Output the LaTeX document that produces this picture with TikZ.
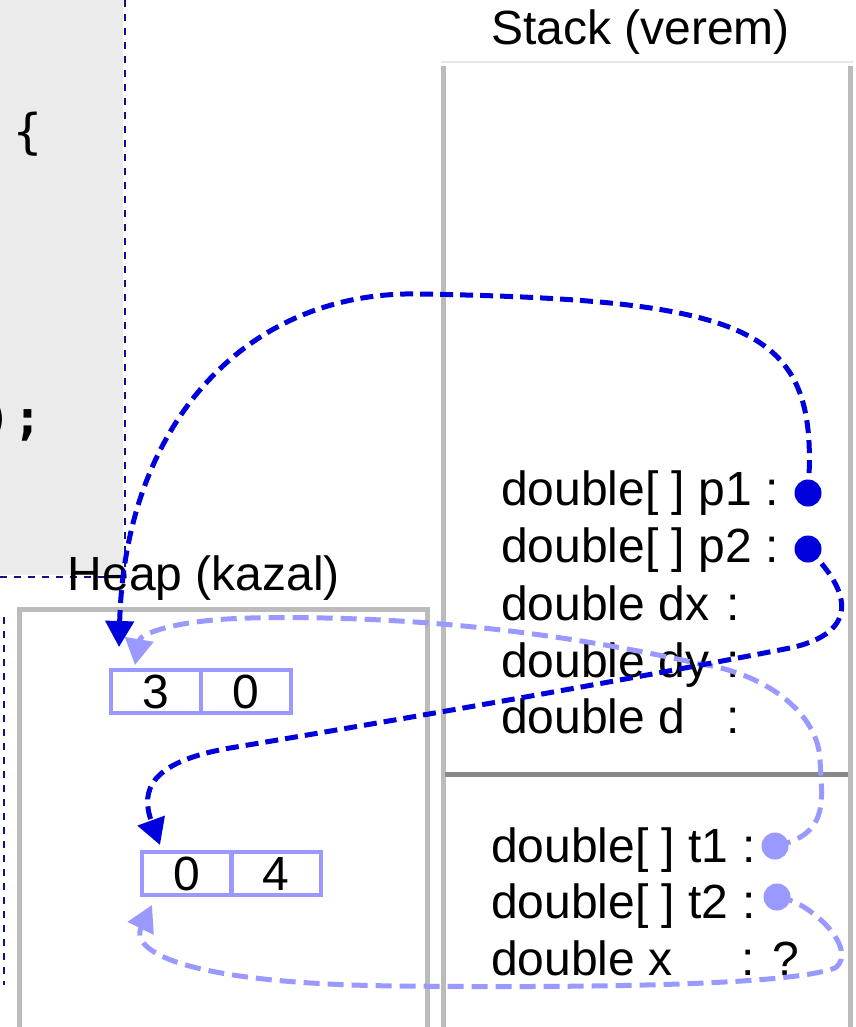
\documentclass[tikz,border=0pt]{standalone}
\usepackage{fontspec}
\setmainfont{Liberation Sans}
\newfontfamily\codefont{DejaVu Sans Mono}
\usetikzlibrary{arrows.meta}
\definecolor{codebg}{HTML}{EBEBEB}
\definecolor{navyline}{HTML}{10108A}
\definecolor{framegray}{HTML}{BBBBBB}
\definecolor{topgray}{HTML}{E6E6E6}
\definecolor{divgray}{HTML}{888888}
\definecolor{darkptr}{HTML}{0000DD}
\definecolor{lightptr}{HTML}{9999FF}
\begin{document}
\begin{tikzpicture}[x=1pt,y=-1pt,
  big/.style={font=\fontsize{48}{56}\selectfont, inner sep=0pt},
  varlabel/.style={big, anchor=base west},
  dotdark/.style={circle, fill=darkptr, inner sep=0pt, minimum size=27pt},
  dotlight/.style={circle, fill=lightptr, inner sep=0pt, minimum size=27pt},
  darkarrow/.style={draw=darkptr, line width=5pt, dash pattern=on 13pt off 7pt, -{Triangle[length=26pt,width=28pt]}},
  lightarrow/.style={draw=lightptr, line width=5pt, dash pattern=on 16pt off 8pt, -{Triangle[length=26pt,width=28pt]}},
  navydash/.style={draw=navyline, line width=1.8pt, dash pattern=on 7pt off 7pt},
  cellbox/.style={draw=lightptr, line width=4.5pt, minimum height=43pt, inner sep=0pt, big},
  frame/.style={draw=framegray, line width=5pt},
]
\useasboundingbox (0,0) rectangle (855,1027);

% code panel
\fill[codebg] (0,0) rectangle (123,575);
\node[font=\codefont\fontsize{48}{52}\selectfont, anchor=base, inner sep=0pt] (brace) at (28,149) {\{};
\node[font=\codefont\bfseries\fontsize{48}{52}\selectfont, anchor=base east, inner sep=0pt] (semi) at (42.5,434) {)\kern2pt;};
\draw[navydash] (125,0) -- (125,577);
\draw[navydash] (0,577) -- (125,577);
\draw[navydash] (4,617) -- (4,985);

% heap frame
\draw[frame] (19.5,609) rectangle (427.5,1045);
% stack frame
\draw[topgray, line width=1.5pt] (441,62) -- (853,62);
\draw[frame] (443,66) -- (443,1045);
\draw[frame] (850.5,66) -- (850.5,1045);
\draw[divgray, line width=4.5pt] (445,774.5) -- (848,774.5);

% labels
\node[big, anchor=base] (stacklbl) at (640.5,45) {Stack (verem)};
\node[big, anchor=base] (heaplbl) at (204,590) {Heap (kazal)};

% stack variables
\node[varlabel] (vp1) at (501,505) {double[ ] p1 :};
\node[varlabel] (vp2) at (501,562) {double[ ] p2 :};
\node[varlabel] (vdx) at (501,620) {\makebox[225pt][l]{double dx}:};
\node[varlabel] (vdy) at (501,677) {\makebox[225pt][l]{double dy}:};
\node[varlabel] (vd) at (501,733) {\makebox[225pt][l]{double d}:};
\node[varlabel] (vt1) at (491,862) {double[ ] t1 :};
\node[varlabel] (vt2) at (491,918) {double[ ] t2 :};
\node[varlabel] (vx) at (491,975) {\makebox[250pt][l]{double x}: ?};

% heap arrays
\node[cellbox, minimum width=90pt] (a1c1) at (156,691.5) {3};
\node[cellbox, minimum width=90pt] (a1c2) at (246,691.5) {0};
\node[cellbox, minimum width=89.5pt] (a2c1) at (186.75,873.5) {0};
\node[cellbox, minimum width=89.5pt] (a2c2) at (276.25,873.5) {4};

% pointer dots (positions)
\coordinate (p1pos) at (808,493);
\coordinate (p2pos) at (808,549);
\coordinate (t1pos) at (775,846);
\coordinate (t2pos) at (777,897);

% arrow targets
\coordinate (tipA) at (119,647);
\coordinate (tipB) at (160,845);
\coordinate (tipC) at (135,665);
\coordinate (tipD) at (152,905);

% light arrows
\draw[lightarrow] (t1pos) .. controls (830,835) and (822,800) .. (820,760)
  .. controls (818,710) and (760,672) .. (700,664)
  .. controls (550,630) and (400,615) .. (250,618)
  .. controls (170,620) and (140,635) .. (tipC);
\draw[lightarrow] (t2pos) .. controls (810,900) and (860,950) .. (835,968)
  .. controls (790,985) and (600,988) .. (400,986)
  .. controls (180,984) and (130,950) .. (tipD);

% dark arrows
\draw[darkarrow] (p1pos) .. controls (820,330) and (760,300) .. (420,294)
  .. controls (250,290) and (125,420) .. (tipA);
\draw[darkarrow] (p2pos) .. controls (860,600) and (850,635) .. (790,648)
  .. controls (600,685) and (350,728) .. (230,748)
  .. controls (150,762) and (140,790) .. (tipB);

% dots
\node[dotdark] (p1dot) at (p1pos) {};
\node[dotdark] (p2dot) at (p2pos) {};
\node[dotlight] (t1dot) at (t1pos) {};
\node[dotlight] (t2dot) at (t2pos) {};
\end{tikzpicture}
\end{document}
